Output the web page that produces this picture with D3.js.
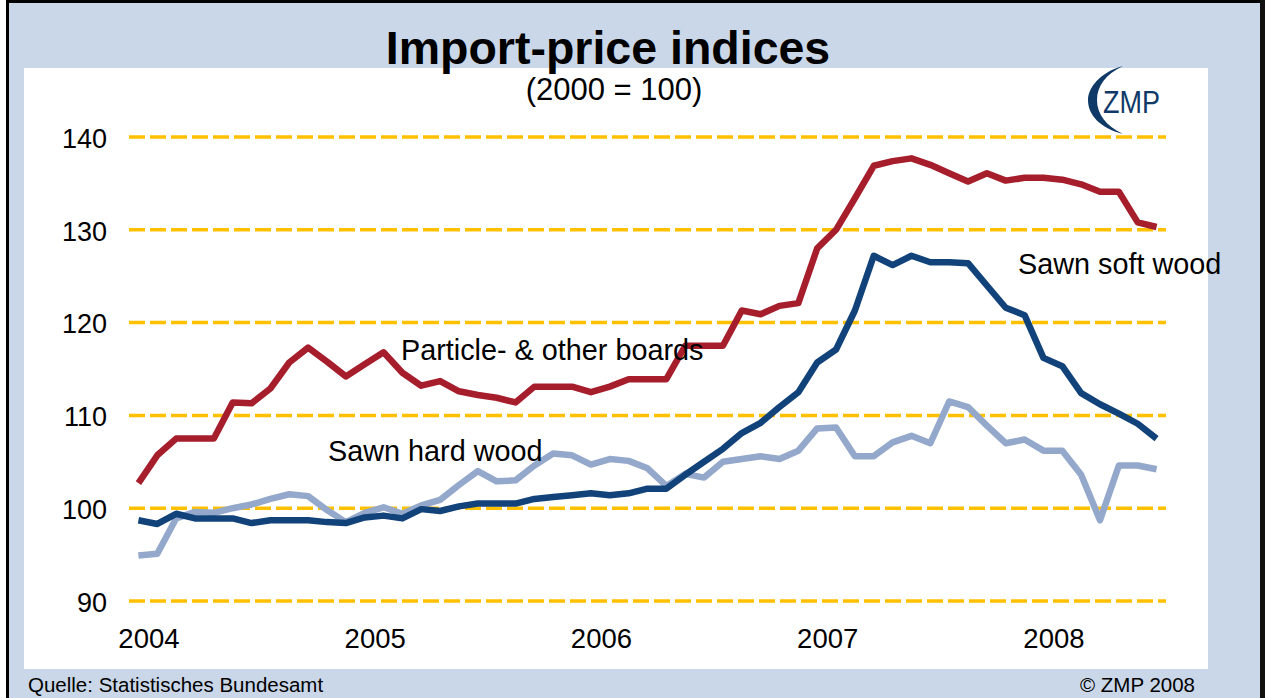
<!DOCTYPE html>
<html>
<head>
<meta charset="utf-8">
<script src="https://cdn.jsdelivr.net/npm/d3@7"></script>
<style>
  body { margin: 0; background: #fff; }
  text { font-family: Arial, "Liberation Sans", sans-serif; }
</style>
</head>
<body>
<script>
  // categories: monthly, Jan 2004 .. Jul 2008
  const years = ['2004', '2005', '2006', '2007', '2008'];
  const months = years.flatMap((yr) => d3.range(1, 13).map((m) => `${yr}-${String(m).padStart(2, '0')}`)).slice(0, 55);

  const particleBoards = [
    102.7, 105.7, 107.5, 107.5, 107.5, 111.4, 111.3, 112.9, 115.7, 117.3,
    115.8, 114.2, 115.5, 116.8, 114.6, 113.2, 113.7, 112.6, 112.2, 111.9,
    111.4, 113.1, 113.1, 113.1, 112.5, 113.1, 113.9, 113.9, 113.9, 117.5,
    117.5, 117.5, 121.3, 120.9, 121.8, 122.1, 128.0, 130.0, 133.4, 136.9,
    137.4, 137.7, 137.0, 136.1, 135.2, 136.1, 135.3, 135.6, 135.6, 135.4,
    134.9, 134.1, 134.1, 130.8, 130.3,
  ];
  const sawnSoftWood = [
    98.7, 98.3, 99.4, 98.9, 98.9, 98.9, 98.4, 98.7, 98.7, 98.7,
    98.5, 98.4, 99.0, 99.2, 98.9, 99.9, 99.7, 100.2, 100.5, 100.5,
    100.5, 101.0, 101.2, 101.4, 101.6, 101.4, 101.6, 102.1, 102.1, 103.6,
    105.0, 106.4, 108.1, 109.2, 110.9, 112.5, 115.7, 117.1, 121.3, 127.2,
    126.2, 127.2, 126.5, 126.5, 126.4, 124.0, 121.6, 120.8, 116.2, 115.3,
    112.4, 111.2, 110.2, 109.1, 107.5,
  ];
  const sawnHardWood = [
    94.9, 95.1, 98.9, 99.6, 99.5, 100.0, 100.4, 101.0, 101.5, 101.3,
    99.8, 98.5, 99.5, 100.1, 99.4, 100.3, 100.9, 102.5, 104.0, 102.9,
    103.0, 104.6, 105.9, 105.7, 104.7, 105.3, 105.1, 104.3, 102.4, 103.7,
    103.3, 105.0, 105.3, 105.6, 105.3, 106.2, 108.6, 108.7, 105.6, 105.6,
    107.1, 107.8, 107.0, 111.5, 110.9, 108.9, 107.0, 107.4, 106.2, 106.2,
    103.6, 98.7, 104.6, 104.6, 104.2,
  ];
  const yTicks = [90, 100, 110, 120, 130, 140];
  const yearTicks = ['2004-01', '2005-01', '2006-01', '2007-01', '2008-01'];

  const width = 1265;
  const height = 698;

  const svg = d3
    .select('body')
    .append('svg')
    .attr('width', width)
    .attr('height', height);

  // frame
  svg.append('rect')
    .attr('x', 7.5).attr('y', 1.5)
    .attr('width', 1254).attr('height', 720)
    .attr('fill', '#cad7e9')
    .attr('stroke', '#000')
    .attr('stroke-width', 3);
  svg.append('rect')
    .attr('x', 1260).attr('y', 0)
    .attr('width', 5).attr('height', height)
    .attr('fill', '#111');
  svg.append('rect')
    .attr('x', 24).attr('y', 68)
    .attr('width', 1184).attr('height', 601)
    .attr('fill', '#fff');

  const x = d3.scalePoint().domain(months).range([129, 1166]).padding(0.5);
  const y = d3.scaleLinear().domain([90, 140]).range([601, 137]);

  // dashed gridlines
  svg.append('g')
    .selectAll('line')
    .data(yTicks)
    .enter()
    .append('line')
    .attr('x1', 129)
    .attr('x2', 1166)
    .attr('y1', (d) => y(d))
    .attr('y2', (d) => y(d))
    .attr('stroke', '#ffc000')
    .attr('stroke-width', 3.5)
    .attr('stroke-dasharray', '16,5');

  const yAxis = svg.append('g')
    .attr('transform', 'translate(129,0)')
    .call(d3.axisLeft(y).tickValues(yTicks).tickSize(0).tickPadding(22));
  yAxis.select('.domain').remove();
  yAxis.selectAll('text')
    .attr('font-size', 27)
    .attr('font-family', 'Arial, "Liberation Sans", sans-serif')
    .attr('fill', '#000')
    .attr('dy', '0.38em');

  const xAxis = svg.append('g')
    .attr('transform', 'translate(0,601)')
    .call(d3.axisBottom(x).tickValues(yearTicks).tickFormat((d) => d.slice(0, 4)).tickSize(0).tickPadding(27));
  xAxis.select('.domain').remove();
  xAxis.selectAll('text')
    .attr('font-size', 27.5)
    .attr('font-family', 'Arial, "Liberation Sans", sans-serif')
    .attr('fill', '#000')
    .attr('dx', 10);

  const line = d3.line()
    .x((d, i) => x(months[i]))
    .y((d) => y(d));

  const seriesList = [
    { values: sawnHardWood, color: '#93a8ca' },
    { values: sawnSoftWood, color: '#12427a' },
    { values: particleBoards, color: '#a61e2c' },
  ];
  svg.append('g')
    .selectAll('path')
    .data(seriesList)
    .enter()
    .append('path')
    .attr('d', (d) => line(d.values))
    .attr('fill', 'none')
    .attr('stroke', (d) => d.color)
    .attr('stroke-width', 6.5)
    .attr('stroke-linejoin', 'round');

  // series labels
  const labels = [
    { text: 'Particle- & other boards', x: 401, y: 360 },
    { text: 'Sawn hard wood', x: 328, y: 461 },
    { text: 'Sawn soft wood', x: 1018, y: 274 },
  ];
  svg.append('g')
    .selectAll('text')
    .data(labels)
    .enter()
    .append('text')
    .attr('x', (d) => d.x)
    .attr('y', (d) => d.y)
    .attr('font-size', 28.8)
    .attr('fill', '#000')
    .text((d) => d.text);

  // titles
  svg.append('text')
    .attr('x', 608).attr('y', 64)
    .attr('text-anchor', 'middle')
    .attr('font-size', 46.5)
    .attr('font-weight', 'bold')
    .text('Import-price indices');
  svg.append('text')
    .attr('x', 614).attr('y', 100)
    .attr('text-anchor', 'middle')
    .attr('font-size', 31)
    .text('(2000 = 100)');

  // logo
  const logo = svg.append('g').attr('fill', '#0f3a68');
  logo.append('path')
    .attr('d', 'M1123,66 C1100,72 1088,88 1088,100 C1088,115 1100,128 1123,134 C1106,126 1097,114 1097,100 C1097,86 1106,74 1123,66 Z');
  logo.append('text')
    .attr('x', 1103).attr('y', 113)
    .attr('font-size', 31)
    .attr('textLength', 57)
    .attr('lengthAdjust', 'spacingAndGlyphs')
    .text('ZMP');

  // footer
  svg.append('text')
    .attr('x', 28).attr('y', 692)
    .attr('font-size', 20.5)
    .text('Quelle: Statistisches Bundesamt');
  svg.append('text')
    .attr('x', 1195).attr('y', 692)
    .attr('text-anchor', 'end')
    .attr('font-size', 20.5)
    .text('© ZMP 2008');
</script>
</body>
</html>
